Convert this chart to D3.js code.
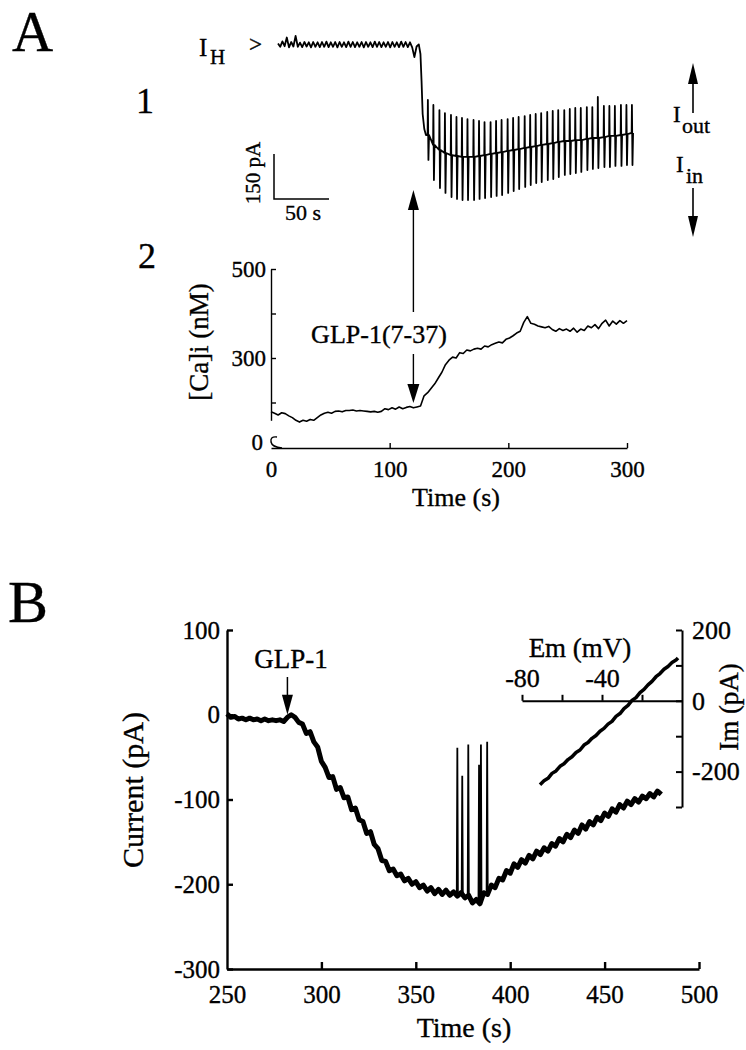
<!DOCTYPE html>
<html><head><meta charset="utf-8">
<script src="https://cdn.jsdelivr.net/npm/d3@7"></script>
<style>
html,body{margin:0;padding:0;background:#fff;}
svg text{font-family:"Liberation Serif","Times New Roman",serif;fill:#000;stroke:#000;stroke-width:0.35px;}
</style></head>
<body>
<svg id="fig" width="746" height="1050"></svg>
<script>
// ---------------- DATA ----------------
// Panel A1: holding current trace (time s, current pA)
const a1BaseT = d3.range(0, 129, 2);
const a1BaseI = [5,-6,12,-4,25,-8,10,-5,30,-6, 8,-7,10,-5,9,-8,10,-6,9,-7,
  10,-6,11,-7,9,-6,10,-8,10,-6, 9,-7,11,-6,10,-7,9,-6,10,-8,
  10,-6,9,-7,11,-6,10,-7,9,-6, 10,-8,10,-6,9,-7,11,-6,10,-7,
  9,-8,-40,-5,2];
const a1DropT = [129.5,130.5,131.5,133,134.5];
const a1DropI = [-30,-120,-230,-280,-300];
const a1CycT = [136,141,146.5,151.5,157,162,167,172,177.5,182.5,187.5,193,198,203,208.5,213.5,218.5,224,229,234,239,244.5,249.5,254.5,260,265,270,275,280.5,285.5,290.5,296,301,306,311.5,316.5,321.5];
const a1Top = [-183,-200,-217,-227,-233,-240,-243,-247,-250,-253,-257,-257,-253,-250,-247,-243,-240,-237,-233,-230,-227,-223,-220,-217,-217,-213,-210,-210,-207,-207,-173,-203,-203,-203,-200,-200,-200];
const a1Mid = [-300,-333,-350,-360,-367,-370,-373,-373,-373,-370,-367,-363,-360,-357,-353,-350,-347,-343,-340,-337,-333,-330,-327,-323,-320,-320,-317,-317,-313,-310,-310,-307,-303,-303,-300,-297,-293];
const a1Bot = [-383,-450,-477,-493,-507,-513,-517,-517,-517,-513,-510,-507,-503,-500,-493,-487,-480,-473,-467,-460,-457,-450,-447,-440,-433,-430,-427,-423,-417,-413,-410,-407,-407,-403,-403,-400,-400];

// Panel A2: [Ca]i (nM) vs time (s)
const caT = d3.range(0, 301, 3);
const caV = [179,176,172,177,175,170,166,160,156,160,
  158,162,160,166,172,176,178,176,180,181,
  179,182,182,183,181,182,181,180,179,180,
  178,180,186,184,188,185,190,186,189,191,
  188,190,192,215,222,232,242,255,268,285,
  295,302,300,312,310,318,316,320,322,320,
  327,325,330,333,336,334,342,345,350,356,
  360,380,393,378,376,372,370,368,371,364,
  360,366,362,365,360,367,358,365,362,372,
  368,375,366,378,385,372,383,376,384,378,
  384];
const caYTicks = [200,300,400,500];
const caXTicks = [0,100,200,300];

// Panel B: current (pA) vs time (s)
const bT = d3.range(250, 481, 2);
const bI = [1,-3,-2,-5,-4,-6,-4,-6,-5,-7,
  -5,-7,-6,-7,-6,-8,-3,0,-3,-9,
  -11,-22,-20,-32,-38,-55,-62,-74,-73,-88,
  -86,-98,-97,-112,-110,-124,-126,-140,-138,-153,
  -158,-172,-173,-184,-182,-190,-188,-196,-193,-200,
  -197,-204,-201,-208,-204,-211,-206,-212,-207,-213,
  -209,-214,-210,-216,-213,-222,-218,-223,-210,-212,
  -201,-204,-193,-195,-184,-187,-176,-180,-171,-175,
  -166,-170,-161,-165,-157,-161,-152,-155,-146,-150,
  -141,-145,-136,-140,-130,-135,-126,-130,-121,-125,
  -116,-120,-111,-115,-106,-110,-102,-106,-99,-103,
  -96,-99,-93,-97,-90,-94];
const bSpikeT = [372,374.6,377.8,383.5,384.5,387.8];
const bSpikeBase = [-212,-212,-214,-222,-222,-212];
const bSpikeTop = [-39,-72,-35,-59,-35,-32];
const bYTicks = [-300,-200,-100,0,100];
const bXTicks = [250,300,350,400,450,500];

// Inset: I-V relation
const ivE = [-71,-69,-67,-65,-63,-61,-59,-57,-55,-53,-51,-49,-47,-45,-43,-41,-39,-37,-35,-33,-31,-29,-27,-25,-23,-21,-19,-17,-15,-13,-11,-9,-7,-5,-3,-2];
const ivI = [-237,-226,-219,-205,-198,-185,-178,-166,-158,-146,-139,-125,-118,-106,-98,-86,-78,-66,-58,-44,-36,-22,-13,1,9,23,32,45,55,68,77,89,97,108,115,121];
const ivXTicks = [-80,-60,-40,-20];
const ivYTicks = [-300,-200,-100,0,100,200];

// ---------------- SCALES ----------------
const svg = d3.select("#fig");
const xA1 = d3.scaleLinear().domain([0,50]).range([278,333]);
const yA1 = d3.scaleLinear().domain([0,-150]).range([45,90]);
const xA2 = d3.scaleLinear().domain([0,300]).range([271,627]);
const yA2 = d3.scaleLinear().domain([160,500]).range([420.3,269]);
const xB = d3.scaleLinear().domain([250,500]).range([227,699]);
const yB = d3.scaleLinear().domain([-300,100]).range([969,630]);
const xI = d3.scaleLinear().domain([-80,0]).range([522,682]);
const yI = d3.scaleLinear().domain([-300,200]).range([807,630]);
const fmt = d => String(d);

function txt(x,y,s,size,anchor,rot){
  const t = svg.append("text").attr("font-size",size).attr("text-anchor",anchor||"start").text(s);
  if(rot){ t.attr("transform",`translate(${x},${y}) rotate(${rot})`); }
  else { t.attr("x",x).attr("y",y); }
  return t;
}
function arrowHead(x,tipY,dir,w,h){ // dir -1 up, +1 down
  svg.append("path").attr("d",`M${x},${tipY} L${x-w/2},${tipY-dir*h} L${x+w/2},${tipY-dir*h} Z`).attr("fill","#000");
}
function styleAxis(g,sw,fs){
  g.select(".domain").attr("stroke","#000").attr("stroke-width",sw);
  g.selectAll(".tick line").attr("stroke","#000").attr("stroke-width",sw);
  g.selectAll(".tick text").attr("font-size",fs).attr("fill","#000")
   .style("font-family",'"Liberation Serif","Times New Roman",serif');
  g.attr("font-family",null).attr("font-size",null);
}

// ---------------- PANEL A1 ----------------
const a1Pts = a1BaseT.map((t,i)=>[t,a1BaseI[i]]);
a1DropT.forEach((t,i)=>a1Pts.push([t,a1DropI[i]]));
a1CycT.forEach((t,i)=>{
  a1Pts.push([t,a1Mid[i]]);
  a1Pts.push([t+0.25,a1Top[i]]);
  a1Pts.push([t+0.75,a1Bot[i]]);
  a1Pts.push([t+1.3,a1Mid[i]]);
});
svg.append("path").datum(a1Pts)
  .attr("d",d3.line().x(d=>xA1(d[0])).y(d=>yA1(d[1])))
  .attr("fill","none").attr("stroke","#000").attr("stroke-width",1.8).attr("stroke-linejoin","round");

// scale bar
const sbX = 274, sbY = 199;
svg.append("path")
  .attr("d",`M${sbX},${sbY-(yA1(-150)-yA1(0))} L${sbX},${sbY} L${sbX+(xA1(50)-xA1(0))},${sbY}`)
  .attr("fill","none").attr("stroke","#000").attr("stroke-width",1.5);
txt(260,173,"150 pA",21,"middle",-90);
txt(303,220,"50 s",22,"middle");

txt(12,51,"A",57);
txt(145,113,"1",36,"middle");
txt(147,268,"2",36,"middle");
txt(199,56,"I",25);
txt(210,64,"H",21);
txt(249,52,">",23);

// I_out / I_in arrows
svg.append("line").attr("x1",693).attr("x2",693).attr("y1",82).attr("y2",113).attr("stroke","#000").attr("stroke-width",1.6);
arrowHead(693,63,-1,10,21);
txt(673,122,"I",23); txt(682,133,"out",22);
txt(676,172,"I",23); txt(686,183,"in",22);
svg.append("line").attr("x1",693).attr("x2",693).attr("y1",188).attr("y2",218).attr("stroke","#000").attr("stroke-width",1.6);
arrowHead(693,237,1,10,21);

// ---------------- PANEL A2 ----------------
const axX = xA2(120);
svg.append("line").attr("x1",axX).attr("x2",axX).attr("y1",208).attr("y2",312).attr("stroke","#000").attr("stroke-width",1.4);
arrowHead(axX,190,-1,11,20);
txt(379,343,"GLP-1(7-37)",26,"middle");
svg.append("line").attr("x1",axX).attr("x2",axX).attr("y1",354).attr("y2",386).attr("stroke","#000").attr("stroke-width",1.4);
arrowHead(axX,403,1,12,19);

const gA2y = svg.append("g").attr("transform",`translate(${xA2(0)},0)`)
  .call(d3.axisLeft(yA2).tickValues(caYTicks).tickSize(-5).tickSizeOuter(0).tickPadding(5)
    .tickFormat(d=>(d===300||d===500)?fmt(d):""));
styleAxis(gA2y,1.4,23);
const gA2x = svg.append("g").attr("transform","translate(0,448)")
  .call(d3.axisBottom(xA2).tickValues(caXTicks).tickSize(-5).tickSizeOuter(0).tickPadding(13).tickFormat(fmt));
styleAxis(gA2x,1.4,23);
gA2x.selectAll(".tick line").filter(d=>d===0).remove();
svg.append("path").attr("d","M277,437 Q270,436 271,442 Q272,447 282,448").attr("fill","none").attr("stroke","#000").attr("stroke-width",1.4);
txt(263,450,"0",23,"end");

svg.append("path").datum(caT.map((t,i)=>[t,caV[i]]))
  .attr("d",d3.line().x(d=>xA2(d[0])).y(d=>yA2(d[1])))
  .attr("fill","none").attr("stroke","#000").attr("stroke-width",1.6).attr("stroke-linejoin","round");

txt(208,342,"[Ca]i (nM)",27,"middle",-90);
txt(456,506,"Time (s)",26,"middle");

// ---------------- PANEL B ----------------
txt(8,622,"B",60);
const gBy = svg.append("g").attr("transform",`translate(${xB(250)},0)`)
  .call(d3.axisLeft(yB).tickValues(bYTicks).tickSize(-6).tickSizeOuter(0).tickPadding(7).tickFormat(fmt));
styleAxis(gBy,2.4,25);
const gBx = svg.append("g").attr("transform",`translate(0,${yB(-300)})`)
  .call(d3.axisBottom(xB).tickValues(bXTicks).tickSize(-7).tickSizeOuter(0).tickPadding(16).tickFormat(fmt));
styleAxis(gBx,2.4,25);
gBx.selectAll(".tick line").filter(d=>d===250).remove();

svg.append("path").datum(bT.map((t,i)=>[t,bI[i]]))
  .attr("d",d3.line().x(d=>xB(d[0])).y(d=>yB(d[1])))
  .attr("fill","none").attr("stroke","#000").attr("stroke-width",5).attr("stroke-linejoin","round");
bSpikeT.forEach((t,i)=>{
  svg.append("path")
    .attr("d",`M${xB(t-0.3)},${yB(bSpikeBase[i])} L${xB(t)},${yB(bSpikeTop[i])} L${xB(t+0.3)},${yB(bSpikeBase[i])}`)
    .attr("fill","none").attr("stroke","#000").attr("stroke-width",1.8);
});
txt(291,668,"GLP-1",27,"middle");
const bx = xB(282);
svg.append("line").attr("x1",bx).attr("x2",bx).attr("y1",677).attr("y2",699).attr("stroke","#000").attr("stroke-width",1.5);
arrowHead(bx,yB(0),1,11,20);

txt(143,790,"Current (pA)",30,"middle",-90);
txt(464,1037,"Time (s)",28,"middle");

// ---------------- INSET ----------------
const gIx = svg.append("g").attr("transform",`translate(0,${yI(0)})`)
  .call(d3.axisTop(xI).tickValues(ivXTicks).tickSize(6).tickSizeOuter(0).tickPadding(8)
    .tickFormat(d=>(d===-80||d===-40)?fmt(d):""));
styleAxis(gIx,2,26);
const gIy = svg.append("g").attr("transform",`translate(${xI(0)},0)`)
  .call(d3.axisRight(yI).tickValues(ivYTicks).tickSize(-6).tickSizeOuter(0).tickPadding(10)
    .tickFormat(d=>(d===200||d===0||d===-200)?fmt(d):""));
styleAxis(gIy,2,26);
svg.append("path").datum(ivE.map((e,i)=>[e,ivI[i]]))
  .attr("d",d3.line().x(d=>xI(d[0])).y(d=>yI(d[1])))
  .attr("fill","none").attr("stroke","#000").attr("stroke-width",3.5).attr("stroke-linejoin","round");
txt(580,657,"Em (mV)",27,"middle");
txt(738,707,"Im (pA)",27,"middle",-90);
</script>
</body></html>
